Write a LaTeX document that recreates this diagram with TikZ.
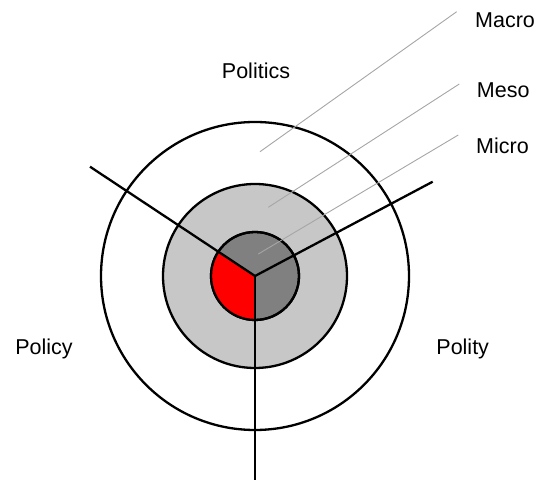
\documentclass[tikz,border=0pt]{standalone}
\usepackage{fontspec}
\setmainfont{Liberation Sans}
\usetikzlibrary{calc}
\begin{document}
\begin{tikzpicture}[x=1pt,y=1pt,
   ring/.style={draw=black,line width=2.3pt},
   spoke/.style={draw=black,line width=2.3pt},
   leader/.style={draw=black!35,line width=0.9pt},
   lbl/.style={inner sep=0pt,font=\fontsize{21.5}{25}\selectfont}]
   \useasboundingbox (0,0) rectangle (535,481);
   \coordinate (c) at (255,205);
   \path[ring,fill=white] (c) circle (154);
   \path[ring,fill=black!22] (c) circle (92);
   \path[ring,fill=black!50] (c) circle (44);
   \fill[red] (c) -- ($(c)+(146.5:44)$) arc (146.5:270:44) -- cycle;
   \draw[ring] (c) circle (44);
   \coordinate (nw) at (90,314.3);
   \coordinate (ne) at (432.7,299.3);
   \coordinate (s) at (255,1);
   \draw[spoke] (nw) -- (c) -- (ne);
   \draw[spoke] (c) -- (s);
   \coordinate (macro-in) at (260,329.3);
   \coordinate (macro-out) at (456.7,469.3);
   \coordinate (meso-in) at (268.3,273.7);
   \coordinate (meso-out) at (459.3,397);
   \coordinate (micro-in) at (258.3,227);
   \coordinate (micro-out) at (458.3,346);
   \draw[leader] (macro-in) -- (macro-out);
   \draw[leader] (meso-in) -- (meso-out);
   \draw[leader] (micro-in) -- (micro-out);
   \node[lbl,anchor=base west] (macro) at (475,453.7) {Macro};
   \node[lbl,anchor=base west] (meso) at (476.7,383.5) {Meso};
   \node[lbl,anchor=base west] (micro) at (476,327.7) {Micro};
   \node[lbl,anchor=base] (politics) at (256,402.7) {Politics};
   \node[lbl,anchor=base] (policy) at (44,126) {Policy};
   \node[lbl,anchor=base] (polity) at (462.7,126) {Polity};
\end{tikzpicture}
\end{document}
